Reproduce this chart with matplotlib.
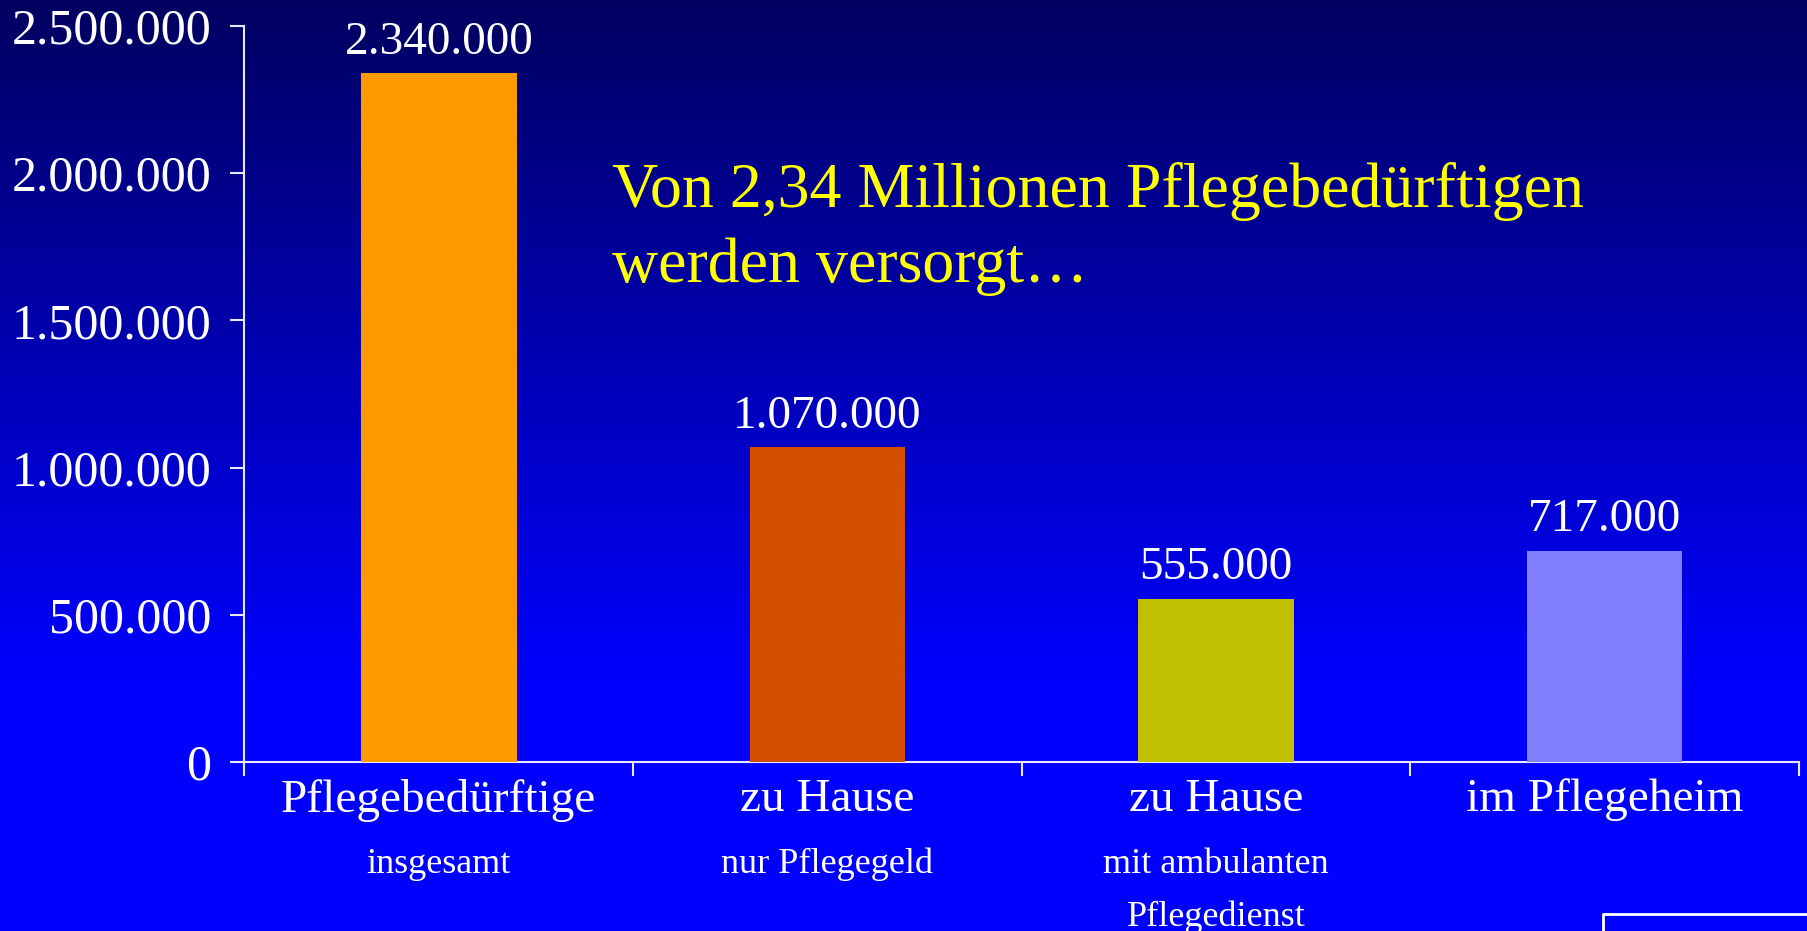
import numpy as np
import matplotlib
matplotlib.use("Agg")
import matplotlib.pyplot as plt
from matplotlib.ticker import FuncFormatter, FixedLocator

# ---- data ----
categories = ["Pflegebedürftige", "zu Hause", "zu Hause", "im Pflegeheim"]
sublabels = [["insgesamt"], ["nur Pflegegeld"], ["mit ambulanten", "Pflegedienst"], []]
values = [2340000, 1070000, 555000, 717000]
value_labels = ["2.340.000", "1.070.000", "555.000", "717.000"]
bar_colors = ["#ff9900", "#d45000", "#c0c000", "#8080ff"]
yticks = [0, 500000, 1000000, 1500000, 2000000, 2500000]
title_lines = ["Von 2,34 Millionen Pflegebedürftigen", "werden versorgt…"]

W, H = 1808, 931
fig = plt.figure(figsize=(W / 100, H / 100), dpi=100)

# gradient background
bg = fig.add_axes([0, 0, 1, 1], zorder=-10)
yy = np.arange(H)
blue = np.clip(96 + 0.232 * yy, 0, 255) / 255.0
img = np.zeros((H, 1, 3))
img[:, 0, 2] = blue
bg.imshow(img, aspect="auto", extent=[0, 1, 0, 1], origin="upper")
bg.set_axis_off()

serif = ["Liberation Serif", "DejaVu Serif"]
line_col = "#e8e8ff"

left, right = 244.5 / W, 1799 / W
bottom, top = 1 - 762 / H, 1 - 26 / H
ax = fig.add_axes([left, bottom, right - left, top - bottom])
ax.patch.set_alpha(0)

x = np.arange(len(values))
ax.bar(x, values, width=0.4, color=bar_colors, zorder=3)
ax.set_xlim(-0.5, len(values) - 0.5)
ax.set_ylim(0, 2500000)

for s in ["top", "right"]:
    ax.spines[s].set_visible(False)
for s in ["left", "bottom"]:
    ax.spines[s].set_color(line_col)
    ax.spines[s].set_linewidth(1.5)

ax.set_yticks(yticks)
ax.yaxis.set_major_formatter(FuncFormatter(lambda v, p: f"{int(v):,}".replace(",", ".")))
ax.tick_params(axis="y", colors=line_col, length=10, width=1.5, pad=14,
               labelsize=36, labelcolor="white")
for lab in ax.get_yticklabels():
    lab.set_family(serif)

# category boundaries as major ticks, labels on minor ticks
ax.xaxis.set_major_locator(FixedLocator(np.arange(-0.5, len(values), 1.0)))
ax.xaxis.set_minor_locator(FixedLocator(x))
ax.set_xticklabels([""] * (len(values) + 1))
ax.set_xticklabels(categories, minor=True)
ax.tick_params(axis="x", which="major", colors=line_col, length=10, width=1.5)
ax.tick_params(axis="x", which="minor", length=0, pad=12, labelsize=34, labelcolor="white")
for lab in ax.get_xticklabels(minor=True):
    lab.set_family(serif)

# sub-labels
for i, subs in enumerate(sublabels):
    for j, s in enumerate(subs):
        ax.annotate(s, xy=(x[i], 0), xycoords=("data", "axes fraction"),
                    xytext=(0, -80 - 38 * j), textcoords="offset points",
                    ha="center", va="baseline", fontsize=26, color="white",
                    family=serif, annotation_clip=False)

# value labels
for xi, v, lab in zip(x, values, value_labels):
    ax.annotate(lab, xy=(xi, v), xytext=(0, 14), textcoords="offset points",
                ha="center", va="baseline", fontsize=34, color="white", family=serif)

# title
fig.text(612 / W, 1 - 207 / H, title_lines[0], fontsize=46, color="#ffff00",
         family=serif, ha="left", va="baseline")
fig.text(612 / W, 1 - 282 / H, title_lines[1], fontsize=46, color="#ffff00",
         family=serif, ha="left", va="baseline")

# white box bottom-right
bg.plot([1603 / W, 1603 / W, 1.0], [0, 1 - 914 / H, 1 - 914 / H], color="white",
        lw=2, transform=bg.transAxes, clip_on=False)
bg.set_xlim(0, 1)
bg.set_ylim(0, 1)

fig.savefig("out.png", dpi=100)
